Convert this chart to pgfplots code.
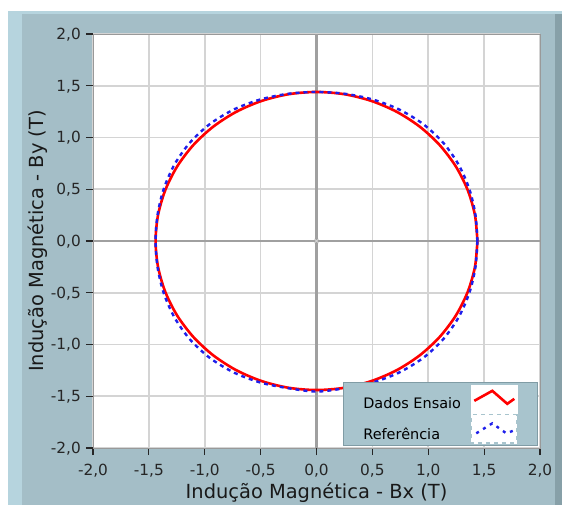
\documentclass[border=0pt]{standalone}
\usepackage{pgfplots}
\pgfplotsset{compat=1.18}
\usepackage{fontspec}
\setmainfont{DejaVu Sans}
\definecolor{panel}{RGB}{164,190,199}
\definecolor{panellight}{RGB}{182,212,222}
\definecolor{paneldark}{RGB}{135,160,168}
\definecolor{legbg}{RGB}{168,196,205}
\definecolor{legdark}{RGB}{128,156,165}
\definecolor{gridc}{RGB}{212,212,212}
\definecolor{zeroc}{RGB}{160,160,160}
\definecolor{redl}{RGB}{255,0,0}
\definecolor{bluel}{RGB}{30,30,235}
\begin{document}
\begin{tikzpicture}
% panel background
\fill[white] (-93bp,-57bp) rectangle (469bp,448bp);
\fill[panel] (-85bp,-57bp) rectangle (469bp,437bp);
\fill[panellight] (-85bp,-57bp) rectangle (-71bp,437bp);
\fill[paneldark] (462bp,-57bp) rectangle (469bp,437bp);
\fill[panellight] (-85bp,434bp) rectangle (469bp,437bp);
\begin{axis}[
  at={(0,0)}, anchor=south west,
  scale only axis, width=447bp, height=414bp,
  xmin=-2, xmax=2, ymin=-2, ymax=2,
  axis background/.style={fill=white},
  axis line style={draw=gray!80, line width=0.8bp},
  xtick={-2,-1.5,-1,-0.5,0,0.5,1,1.5,2},
  ytick={-2,-1.5,-1,-0.5,0,0.5,1,1.5,2},
  xticklabels={{-2,0},{-1,5},{-1,0},{-0,5},{0,0},{0,5},{1,0},{1,5},{2,0}},
  yticklabels={{-2,0},{-1,5},{-1,0},{-0,5},{0,0},{0,5},{1,0},{1,5},{2,0}},
  xtick pos=left, ytick pos=left,
  tick align=outside,
  major tick length=7bp,
  every tick/.style={draw=black!85, line width=1.1bp},
  grid=major,
  major grid style={draw=gridc, line width=1.6bp},
  extra x ticks={0}, extra y ticks={0},
  extra x tick labels={}, extra y tick labels={},
  extra tick style={grid=major, major grid style={draw=zeroc, line width=2.6bp}},
  tick label style={font=\fontsize{15.4}{18}\selectfont, text=black!85},
  xticklabel style={anchor=base, yshift=-20bp},
  yticklabel style={anchor=base east, inner sep=0pt, xshift=-5bp, yshift=-5.5bp},
  xlabel={Indução Magnética - Bx (T)},
  ylabel={Indução Magnética - By (T)},
  every axis x label/.style={at={(rel axis cs:0.5,0)}, anchor=base, yshift=-50bp, font=\fontsize{19.5}{22}\selectfont, text=black!90},
  every axis y label/.style={at={(rel axis cs:0,0.5)}, xshift=-49bp, rotate=90, anchor=base, font=\fontsize{19.5}{22}\selectfont, text=black!90},
  legend plot pos=right,
  legend cell align=left,
  legend style={at={(0.9955,0.005)}, anchor=south east, fill=legbg, draw=legdark, line width=0.8bp,
    inner xsep=20bp, inner ysep=2bp, row sep=0pt,
    font=\fontsize{14.5}{17}\selectfont,
    nodes={inner sep=0pt},
    /tikz/every odd column/.append style={column sep=10bp}},
]
\addplot[redl, line width=2.6bp, smooth,
  legend image code/.code={\fill[white] (0bp,-9bp) rectangle (44bp,18bp); \draw[redl, line width=2.6bp, solid] (2bp,3bp) -- (20bp,13bp) -- (35bp,0bp) -- (42bp,5bp);}]
coordinates {
(1.440,0) (1.418,0.250) (1.353,0.492) (1.247,0.720) (1.103,0.926) (0.926,1.103) (0.720,1.247) (0.492,1.353) (0.250,1.418) (0,1.440) (-0.250,1.418) (-0.492,1.353) (-0.720,1.247) (-0.926,1.103) (-1.103,0.926) (-1.247,0.720) (-1.353,0.492) (-1.418,0.250) (-1.440,0) (-1.418,-0.250) (-1.353,-0.492) (-1.247,-0.720) (-1.103,-0.926) (-0.926,-1.103) (-0.720,-1.247) (-0.492,-1.353) (-0.250,-1.418) (0,-1.440) (0.250,-1.418) (0.492,-1.353) (0.720,-1.247) (0.926,-1.103) (1.103,-0.926) (1.247,-0.720) (1.353,-0.492) (1.418,-0.250) (1.440,0)
};
\addlegendentry{Dados Ensaio}
\addplot[bluel, line width=2.4bp, smooth, dash pattern=on 4bp off 4bp,
  legend image code/.code={\fill[white] (0bp,-8bp) rectangle (44bp,19bp); \draw[bluel, line width=2.4bp, dash pattern=on 3bp off 5bp] (4bp,1bp) -- (20bp,11bp) -- (34bp,1bp) -- (42bp,4bp);}]
coordinates {
(1.440,0) (1.4227,0.2508) (1.3687,0.4981) (1.2730,0.7350) (1.1328,0.9506) (0.9506,1.1328) (0.7350,1.2730) (0.4981,1.3687) (0.2508,1.4227) (0,1.440) (-0.2508,1.4227) (-0.4981,1.3687) (-0.7350,1.2730) (-0.9506,1.1328) (-1.1328,0.9506) (-1.2730,0.7350) (-1.3687,0.4981) (-1.4227,0.2508) (-1.440,0) (-1.4227,-0.2508) (-1.3687,-0.4981) (-1.2730,-0.7350) (-1.1328,-0.9506) (-0.9506,-1.1328) (-0.7350,-1.2730) (-0.4981,-1.3687) (-0.2508,-1.4227) (0,-1.455) (0.2508,-1.4227) (0.4981,-1.3687) (0.7350,-1.2730) (0.9506,-1.1328) (1.1328,-0.9506) (1.2730,-0.7350) (1.3687,-0.4981) (1.4227,-0.2508) (1.440,0)
};
\addlegendentry{Referência}
\addplot[forget plot, only marks, mark=x, mark size=3bp, draw=gray!35, line width=1bp] coordinates {(0,0)};
\end{axis}
\end{tikzpicture}
\end{document}
